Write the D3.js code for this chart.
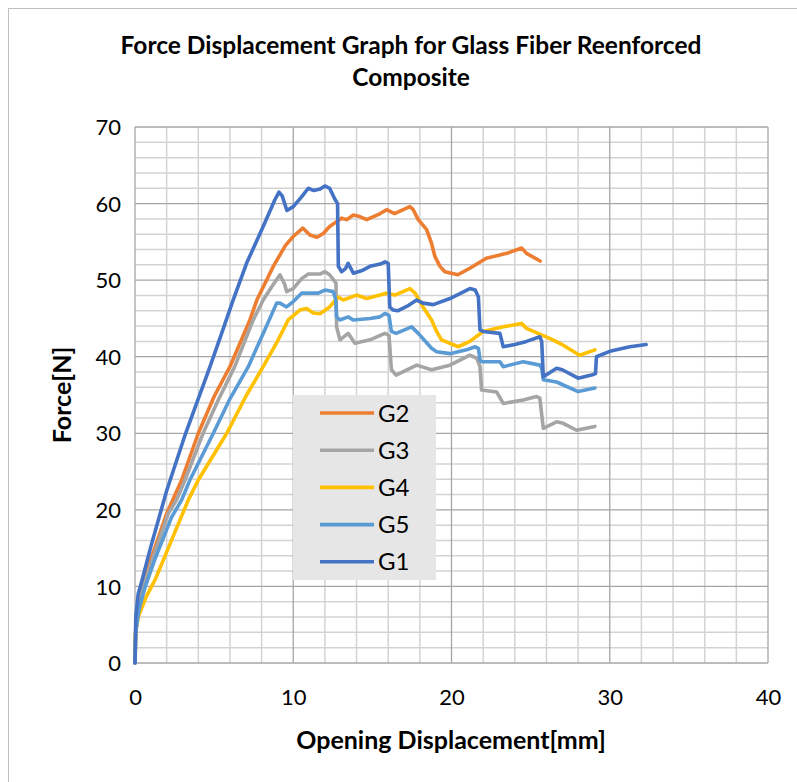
<!DOCTYPE html>
<html>
<head>
<meta charset="utf-8">
<script src="https://cdn.jsdelivr.net/npm/d3@7"></script>
<style>
  html, body { margin: 0; padding: 0; background: #ffffff; }
  svg text { font-family: Lato, "Open Sans", "Liberation Sans", sans-serif; fill: #000; }
</style>
</head>
<body>
<svg id="chart" width="797" height="782"></svg>
<script>
// Opening displacement [mm] / force [N] readings for each specimen
const seriesNames = ["G2", "G3", "G4", "G5", "G1"];
const seriesColors = ["#ED7D31", "#A5A5A5", "#FFC000", "#5B9BD5", "#4472C4"];

const G2 = [[0,0],[0.05,4],[0.2,7],[0.5,10],[1,13.5],[2,19.5],[2.95,23.9],[4,30],[5,34.8],[6,38.7],[7.26,44.8],[7.7,47.4],[8.74,51.8],[9.5,54.5],[10,55.7],[10.6,56.8],[11.05,55.9],[11.5,55.6],[11.9,56.1],[12.3,57],[13.06,58.1],[13.37,57.9],[13.8,58.5],[14.2,58.3],[14.64,57.9],[15.5,58.7],[15.9,59.2],[16.4,58.7],[17.37,59.6],[17.58,59.2],[17.9,57.9],[18.43,56.6],[18.74,54.8],[18.95,53.1],[19.27,51.8],[19.58,51.1],[20.4,50.7],[21.16,51.55],[22.2,52.85],[23.5,53.5],[24.43,54.2],[24.74,53.5],[25.6,52.5]];

const G3 = [[0,0],[0.05,4],[0.2,6.8],[0.55,10],[1.1,13.5],[2.1,19.5],[2.63,21.3],[3.16,23.9],[4.3,30],[5.3,34.5],[6.3,38.7],[7.47,44.8],[8.1,47.4],[8.63,49.1],[9.16,50.7],[9.47,49.4],[9.58,48.5],[10,48.9],[10.53,50.2],[10.95,50.8],[11.69,50.8],[12,51.1],[12.3,50.7],[12.7,49.6],[12.74,43.9],[12.95,42.2],[13.47,43.05],[13.9,41.75],[14.85,42.2],[15.79,43.05],[16.05,42.8],[16.2,38.3],[16.5,37.6],[17.8,38.9],[18.74,38.3],[19.9,38.9],[21.16,40.2],[21.6,39.8],[21.8,38.7],[21.9,35.65],[22.85,35.4],[23.27,33.9],[24.53,34.35],[25.37,34.8],[25.58,34.6],[25.8,30.65],[26.64,31.5],[27.06,31.3],[27.9,30.4],[29.06,30.9]];

const G4 = [[0,0],[0.02,4],[0.25,6.3],[0.7,8.6],[1.3,11],[2.2,15.5],[3.37,21.3],[4,23.9],[5.8,30],[7,34.8],[8.1,38.7],[9,42],[9.68,44.8],[10.42,46.1],[10.84,46.3],[11.27,45.7],[11.69,45.6],[12.3,46.5],[12.84,47.8],[13.16,47.4],[14,48.05],[14.64,47.6],[15.48,48.05],[15.9,48.3],[16.42,48.05],[17.37,48.9],[17.7,48.3],[18.2,46.5],[18.74,44.8],[19.06,43.3],[19.37,42.2],[20.42,41.3],[21.16,42],[22,43.3],[23.27,43.9],[24.43,44.35],[24.74,43.7],[26.2,42.4],[27.06,41.5],[28.1,40.2],[29.06,40.9]];

const G5 = [[0,0],[0.04,4],[0.25,7],[0.65,10],[1.25,13.5],[2.3,19],[2.95,21.3],[3.47,23.9],[4.95,30],[6,34.5],[7.16,38.7],[8.2,43.5],[8.95,47],[9.16,47],[9.58,46.5],[10,47.2],[10.53,48.3],[11.05,48.3],[11.58,48.3],[12,48.7],[12.53,48.5],[12.68,47.5],[12.74,45.2],[12.95,44.8],[13.47,45.2],[13.79,44.8],[14.85,45],[15.48,45.2],[15.79,45.65],[16.05,45.4],[16.2,43.3],[16.5,43.05],[17.48,43.9],[17.9,43.05],[18.74,41.1],[19.06,40.65],[19.9,40.4],[20.95,40.9],[21.5,41.3],[21.7,41.1],[21.8,39.6],[21.9,39.35],[23.06,39.35],[23.27,38.7],[24.53,39.35],[25.58,38.9],[25.7,38.5],[25.8,37],[26.64,36.7],[28,35.45],[29.06,35.9]];

const G1 = [[0,0],[0.05,6],[0.2,9],[0.42,10.6],[1,15.2],[2,22.5],[3.2,30],[4.74,38.7],[5.6,43.8],[6.2,47.4],[7.05,52.2],[8.1,57],[8.84,60.5],[9.1,61.5],[9.3,61],[9.6,59.1],[10,59.6],[10.5,60.8],[10.95,62],[11.3,61.7],[11.7,61.9],[12,62.3],[12.3,62],[12.6,60.7],[12.8,60],[12.85,51.8],[13.06,51.1],[13.3,51.5],[13.47,52.2],[13.8,50.9],[14.4,51.3],[14.85,51.8],[15.5,52.1],[15.8,52.4],[16,52.2],[16.1,46.5],[16.3,46.1],[16.6,46],[17.2,46.6],[17.8,47.4],[18.2,47],[18.85,46.8],[19.9,47.6],[20.5,48.2],[21.16,48.9],[21.5,48.7],[21.7,47.8],[21.8,43.5],[22,43.3],[23.06,43.05],[23.27,41.3],[24,41.6],[24.74,42],[25.58,42.6],[25.7,42],[25.8,37.4],[26.2,37.9],[26.64,38.5],[27,38.3],[28,37.2],[28.85,37.6],[29.1,37.8],[29.16,40],[30,40.7],[31.27,41.3],[32.3,41.6]];

const seriesData = [G2, G3, G4, G5, G1];

const xTicks = [0, 10, 20, 30, 40];
const yTicks = [0, 10, 20, 30, 40, 50, 60, 70];

const titleLines = ["Force Displacement Graph for Glass Fiber Reenforced", "Composite"];
const xTitle = "Opening Displacement[mm]";
const yTitle = "Force[N]";

const svg = d3.select("#chart");

// chart frame
svg.append("rect")
  .attr("x", 8.5).attr("y", 8.5)
  .attr("width", 800).attr("height", 800)
  .attr("fill", "#fff").attr("stroke", "#bfbfbf").attr("stroke-width", 1);

const plot = { left: 135, right: 768, top: 127, bottom: 663 };
const x = d3.scaleLinear().domain([0, 40]).range([plot.left, plot.right]);
const y = d3.scaleLinear().domain([0, 70]).range([plot.bottom, plot.top]);

// minor grid every 2 units, major every 10
const g = svg.append("g");
const minorX = d3.range(0, 40.01, 2).filter(v => v % 10 !== 0);
const minorY = d3.range(0, 70.01, 2).filter(v => v % 10 !== 0);
g.selectAll(".mx").data(minorX).join("line")
  .attr("x1", d => x(d)).attr("x2", d => x(d))
  .attr("y1", plot.top).attr("y2", plot.bottom)
  .attr("stroke", "#d3d3d3").attr("stroke-width", 1.5);
g.selectAll(".my").data(minorY).join("line")
  .attr("y1", d => y(d)).attr("y2", d => y(d))
  .attr("x1", plot.left).attr("x2", plot.right)
  .attr("stroke", "#d3d3d3").attr("stroke-width", 1.5);
g.selectAll(".Mx").data(xTicks).join("line")
  .attr("x1", d => x(d)).attr("x2", d => x(d))
  .attr("y1", plot.top).attr("y2", plot.bottom)
  .attr("stroke", "#a6a6a6").attr("stroke-width", 1.3);
g.selectAll(".My").data(yTicks).join("line")
  .attr("y1", d => y(d)).attr("y2", d => y(d))
  .attr("x1", plot.left).attr("x2", plot.right)
  .attr("stroke", "#a6a6a6").attr("stroke-width", 1.3);

// axes (labels only)
const xAxis = d3.axisBottom(x).tickValues(xTicks).tickSize(0).tickPadding(0);
const yAxis = d3.axisLeft(y).tickValues(yTicks).tickSize(0).tickPadding(0);
const xa = svg.append("g").attr("transform", `translate(0,${plot.bottom + 26})`).call(xAxis);
xa.select(".domain").remove();
xa.selectAll("text").attr("font-size", 22).attr("dy", "0.71em").attr("font-family", "Lato, sans-serif").attr("fill", "#000");
const ya = svg.append("g").attr("transform", `translate(${plot.left - 14},0)`).call(yAxis);
ya.select(".domain").remove();
ya.selectAll("text").attr("font-size", 22).attr("dy", "0.35em").attr("font-family", "Lato, sans-serif").attr("fill", "#000");

// series lines
const line = d3.line().x(d => x(d[0])).y(d => y(d[1]));
svg.append("g").selectAll("path").data(seriesData).join("path")
  .attr("d", line)
  .attr("fill", "none")
  .attr("stroke", (d, i) => seriesColors[i])
  .attr("stroke-width", 3.6)
  .attr("stroke-linejoin", "round")
  .attr("stroke-linecap", "round");

// title
svg.append("g").selectAll("text").data(titleLines).join("text")
  .attr("x", 411).attr("y", (d, i) => 54 + i * 32)
  .attr("text-anchor", "middle")
  .attr("font-size", 24.5).attr("font-weight", "bold")
  .text(d => d);

// axis titles
svg.append("text")
  .attr("x", 451).attr("y", 749)
  .attr("text-anchor", "middle")
  .attr("font-size", 25).attr("font-weight", "bold")
  .text(xTitle);
svg.append("text")
  .attr("transform", "translate(71,395) rotate(-90)")
  .attr("text-anchor", "middle")
  .attr("font-size", 25).attr("font-weight", "bold")
  .text(yTitle);

// legend
const lg = svg.append("g");
lg.append("rect").attr("x", 293).attr("y", 395).attr("width", 143).attr("height", 185)
  .attr("fill", "#e7e6e6");
const rows = lg.selectAll("g").data(seriesNames).join("g")
  .attr("transform", (d, i) => `translate(0,${413 + i * 37.2})`);
rows.append("line").attr("x1", 320).attr("x2", 374).attr("y1", 0).attr("y2", 0)
  .attr("stroke", (d, i) => seriesColors[i]).attr("stroke-width", 3.6);
rows.append("text").attr("x", 378).attr("y", 0).attr("dy", "0.36em")
  .attr("font-size", 24).text(d => d);
</script>
</body>
</html>
